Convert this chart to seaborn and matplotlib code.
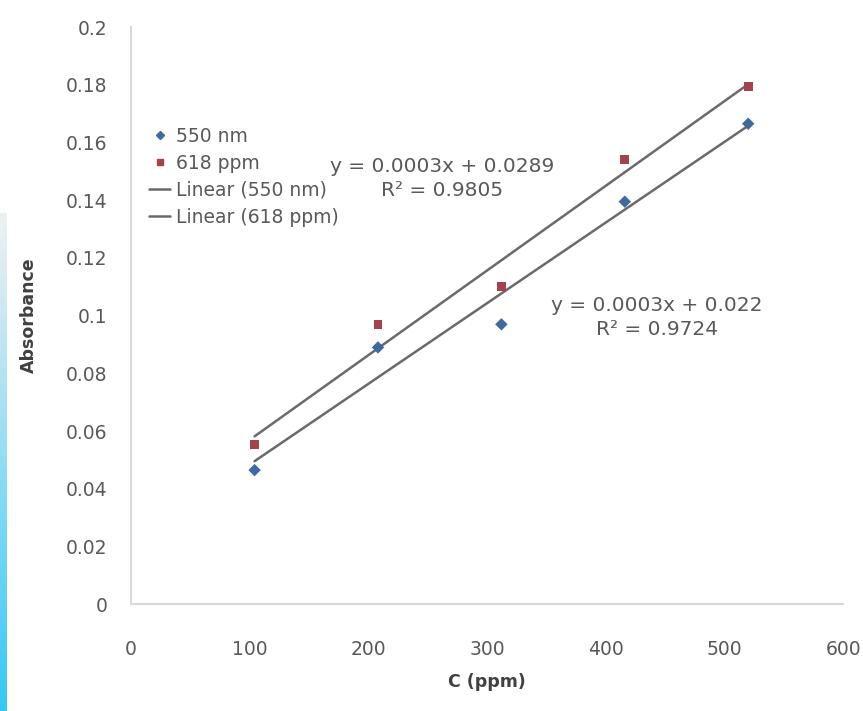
import numpy as np
import pandas as pd
import seaborn as sns
import matplotlib.pyplot as plt
from matplotlib.lines import Line2D

# ============================
# Data
# ============================
conc = [104, 208, 312, 416, 520]
abs_550 = [0.0465, 0.0890, 0.0970, 0.1395, 0.1665]
abs_618 = [0.0555, 0.0970, 0.1100, 0.1540, 0.1795]

series_names = ["550 nm", "618 ppm"]
eq_labels = ["y = 0.0003x + 0.022\nR² = 0.9724", "y = 0.0003x + 0.0289\nR² = 0.9805"]

x_ticks = [0, 100, 200, 300, 400, 500, 600]
y_ticks = [0, 0.02, 0.04, 0.06, 0.08, 0.1, 0.12, 0.14, 0.16, 0.18, 0.2]
y_tick_labels = ["0", "0.02", "0.04", "0.06", "0.08", "0.1", "0.12", "0.14", "0.16", "0.18", "0.2"]

df = pd.DataFrame({
    "C": conc * 2,
    "A": abs_550 + abs_618,
    "series": [series_names[0]] * len(conc) + [series_names[1]] * len(conc),
})

# ============================
# Style
# ============================
sns.set_style("white")
plt.rcParams["font.family"] = ["DejaVu Sans"]

blue = "#41689F"
red = "#A5424D"
trend = "#6A6A6A"
txt = "#595959"

fig = plt.figure(figsize=(8.63, 7.11), dpi=100)
ax = fig.add_axes([0.152, 0.150, 0.825, 0.812])

# trendlines
for name in series_names:
    sub = df[df["series"] == name]
    sns.regplot(data=sub, x="C", y="A", ax=ax, scatter=False, ci=None,
                line_kws={"color": trend, "lw": 1.8, "zorder": 2})

sns.scatterplot(data=df, x="C", y="A", hue="series", style="series",
                palette={series_names[0]: blue, series_names[1]: red},
                markers={series_names[0]: "D", series_names[1]: "s"},
                s=40, edgecolor="none", ax=ax, zorder=3, legend=False)

ax.set_xlim(0, 600)
ax.set_ylim(0, 0.2)
ax.set_xticks(x_ticks)
ax.set_yticks(y_ticks)
ax.set_yticklabels(y_tick_labels)
ax.tick_params(axis="both", labelsize=13.5, colors=txt, length=0)
ax.tick_params(axis="y", pad=17)
ax.tick_params(axis="x", pad=26)

for s in ["top", "right"]:
    ax.spines[s].set_visible(False)
for s in ["left", "bottom"]:
    ax.spines[s].set_color("#D9D9D9")
    ax.spines[s].set_linewidth(1.5)

ax.set_xlabel("C (ppm)", fontsize=12.5, fontweight="bold", color="#404040", labelpad=10)
ax.set_ylabel("Absorbance", fontsize=12.5, fontweight="bold", color="#404040", labelpad=20)

# trendline equations
ax.text(262, 0.1475, eq_labels[1], ha="center", va="center", fontsize=14.5,
        color=txt, linespacing=1.35)
ax.text(443, 0.0995, eq_labels[0], ha="center", va="center", fontsize=14.5,
        color=txt, linespacing=1.35)

handles = [
    Line2D([], [], ls="none", marker="D", ms=4, color=blue),
    Line2D([], [], ls="none", marker="s", ms=5, color=red),
    Line2D([], [], color=trend, lw=1.8),
    Line2D([], [], color=trend, lw=1.8),
]
labels = ["550 nm", "618 ppm", "Linear (550 nm)", "Linear (618 ppm)"]
leg = ax.legend(handles, labels, loc="upper left", bbox_to_anchor=(0.015, 0.84),
                frameon=False, fontsize=13.5, handlelength=1.1, handletextpad=0.3,
                labelspacing=0.42, borderaxespad=0)
for t in leg.get_texts():
    t.set_color(txt)

# light cyan strip on the left edge
strip = fig.add_axes([0, 0, 0.007, 0.70])
grad = np.linspace(0, 1, 256).reshape(-1, 1)
strip.imshow(grad, aspect="auto", cmap=sns.light_palette("#35C8F5", as_cmap=True),
             origin="upper", extent=[0, 1, 0, 1])
strip.axis("off")

plt.savefig("out.png", dpi=100)
